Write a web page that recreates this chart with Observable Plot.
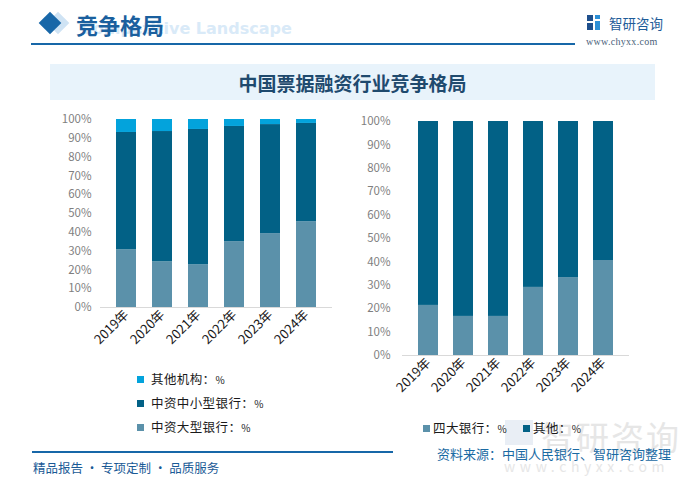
<!DOCTYPE html>
<html><head><meta charset="utf-8">
<script src="https://cdn.jsdelivr.net/npm/d3@7"></script>
<script src="https://cdn.jsdelivr.net/npm/@observablehq/plot@0.6"></script>
<style>
body{margin:0;width:696px;height:490px;position:relative;overflow:hidden;background:#fff;font-family:"Noto Sans CJK SC","Noto Sans",sans-serif;}
.abs{position:absolute;white-space:nowrap;}
.sq{display:inline-block;width:7px;height:7px;margin-right:7px;vertical-align:1px;}
.leg{font-size:12.5px;color:#1a1a1a;line-height:14px;letter-spacing:0.4px;}
.pc{font-size:10px;}
</style></head><body>
<script>
// ---- data ----
const years = ["2019年","2020年","2021年","2022年","2023年","2024年"];
const leftSeries = ["中资大型银行","中资中小型银行","其他机构"];
const bigBanks      = [30.7, 24.3, 22.7, 35.0, 39.3, 45.6];
const midSmallBanks = [62.4, 69.3, 72.0, 61.3, 58.0, 52.3];
const otherInst     = [ 6.9,  6.4,  5.3,  3.7,  2.7,  2.1];
const rightSeries = ["四大银行","其他"];
const big4        = [21.4, 16.7, 16.7, 29.1, 33.3, 40.6];
const otherRight  = [78.6, 83.3, 83.3, 70.9, 66.7, 59.4];
const yTicks = [0,10,20,30,40,50,60,70,80,90,100];
const colorBig = "#5b91aa", colorMid = "#026186", colorOther = "#03a3dc";
</script>

<!-- watermark bottom right -->
<div class="abs" style="left:505px;top:420px;width:28px;height:25px;background:#e9eef5;"></div>
<div class="abs" style="left:541px;top:412px;font-size:33px;color:#e6e6e6;letter-spacing:2px;">智研咨询</div>
<div class="abs" style="left:504px;top:456px;font-size:14px;color:#e6e6e6;letter-spacing:4.6px;">www.chyxx.com</div>

<!-- header -->
<div class="abs" style="left:50px;top:15px;width:16px;height:16px;background:#cfe3f4;transform:rotate(45deg);"></div>
<div class="abs" style="left:42px;top:15px;width:16px;height:16px;background:#1867a8;transform:rotate(45deg);"></div>
<div class="abs" style="left:81px;top:19px;font-size:16px;font-weight:700;color:#d9eaf8;font-family:'DejaVu Sans',sans-serif;">Competitive Landscape</div>
<div class="abs" style="left:76px;top:8px;font-size:22px;font-weight:700;color:#1a5f9e;">竞争格局</div>
<div class="abs" style="left:31px;top:43px;width:544px;height:2px;background:#1767a8;"></div>
<svg class="abs" style="left:587px;top:15px;" width="13" height="15">
 <rect x="0" y="0" width="6" height="6" fill="#1e4f8c"/><rect x="0" y="8" width="6" height="7" fill="#1e4f8c"/>
 <rect x="8" y="0" width="5" height="4" fill="#2c8fd6"/><rect x="8" y="6" width="5" height="9" fill="#2c8fd6"/>
</svg>
<div class="abs" style="left:609px;top:13px;font-size:13.5px;color:#1e5c99;">智研咨询</div>
<div class="abs" style="left:586px;top:36px;font-size:10px;color:#4a5f7a;font-family:'Liberation Serif',serif;letter-spacing:0.3px;">www.chyxx.com</div>

<!-- title box -->
<div class="abs" style="left:50px;top:64px;width:605px;height:36px;background:#e8f3fb;"></div>
<div class="abs" style="left:50px;top:69px;width:605px;text-align:center;font-size:19px;font-weight:700;color:#1f4a6e;">中国票据融资行业竞争格局</div>

<div id="left" class="abs" style="left:50px;top:105px;"></div>
<div id="right" class="abs" style="left:355px;top:105px;"></div>

<!-- legends -->
<div class="abs leg" style="left:137px;top:372px;"><span class="sq" style="background:#03a3dc"></span>其他机构：<span class="pc">%</span></div>
<div class="abs leg" style="left:137px;top:396px;"><span class="sq" style="background:#026186"></span>中资中小型银行：<span class="pc">%</span></div>
<div class="abs leg" style="left:137px;top:420px;"><span class="sq" style="background:#5b91aa"></span>中资大型银行：<span class="pc">%</span></div>
<div class="abs leg" style="left:423px;top:421px;"><span class="sq" style="background:#5b91aa;margin-right:3px"></span>四大银行：<span class="pc">%</span></div>
<div class="abs leg" style="left:523px;top:421px;"><span class="sq" style="background:#026186;margin-right:3px"></span>其他：<span class="pc">%</span></div>

<!-- footer -->
<div class="abs" style="left:32px;top:451px;width:361px;height:2px;background:#1767a8;"></div>
<div class="abs" style="left:33px;top:458px;font-size:12.5px;color:#1a5a96;">精品报告 · 专项定制 · 品质服务</div>
<div class="abs" style="left:437px;top:444px;font-size:13px;color:#1a6aa3;">资料来源：中国人民银行、智研咨询整理</div>

<script>
const font = "'Noto Sans CJK SC','Noto Sans',sans-serif";
const leftData = years.flatMap((y,i)=>[
  {year:y, series:leftSeries[0], value:bigBanks[i]},
  {year:y, series:leftSeries[1], value:midSmallBanks[i]},
  {year:y, series:leftSeries[2], value:otherInst[i]}
]);
const rightData = years.flatMap((y,i)=>[
  {year:y, series:rightSeries[0], value:big4[i]},
  {year:y, series:rightSeries[1], value:otherRight[i]}
]);
function chart(data, series, colors, opts){
  return Plot.plot({
    width:opts.width, height:opts.height,
    marginLeft:opts.ml, marginRight:opts.mr, marginTop:opts.mt, marginBottom:opts.mb,
    style:{fontFamily:font, fontSize:"11px", background:"transparent", overflow:"visible"},
    x:{domain:years, padding:opts.pad, label:null},
    y:{domain:[0,100], label:null},
    color:{domain:series, range:colors},
    marks:[
      Plot.axisY({ticks:yTicks, tickFormat:d=>d+"%", tickSize:0, tickPadding:opts.tp, fill:"#7f7f7f", fontSize:11.5}),
      Plot.axisX({tickRotate:-45, tickSize:0, tickPadding:5, fill:"#1a1a1a", fontSize:13}),
      Plot.barY(data, {x:"year", y:"value", fill:"series"}),
      Plot.ruleY([0], {stroke:"#d9d9d9"})
    ]
  });
}
document.getElementById("left").append(chart(leftData, leftSeries, [colorBig,colorMid,colorOther],
  {width:290,height:255,ml:50,mr:8,mt:14,mb:53,pad:0.44,tp:9}));
document.getElementById("right").append(chart(rightData, rightSeries, [colorBig,colorMid],
  {width:285,height:290,ml:47,mr:11,mt:16,mb:40,pad:0.42,tp:12}));
</script>
</body></html>
